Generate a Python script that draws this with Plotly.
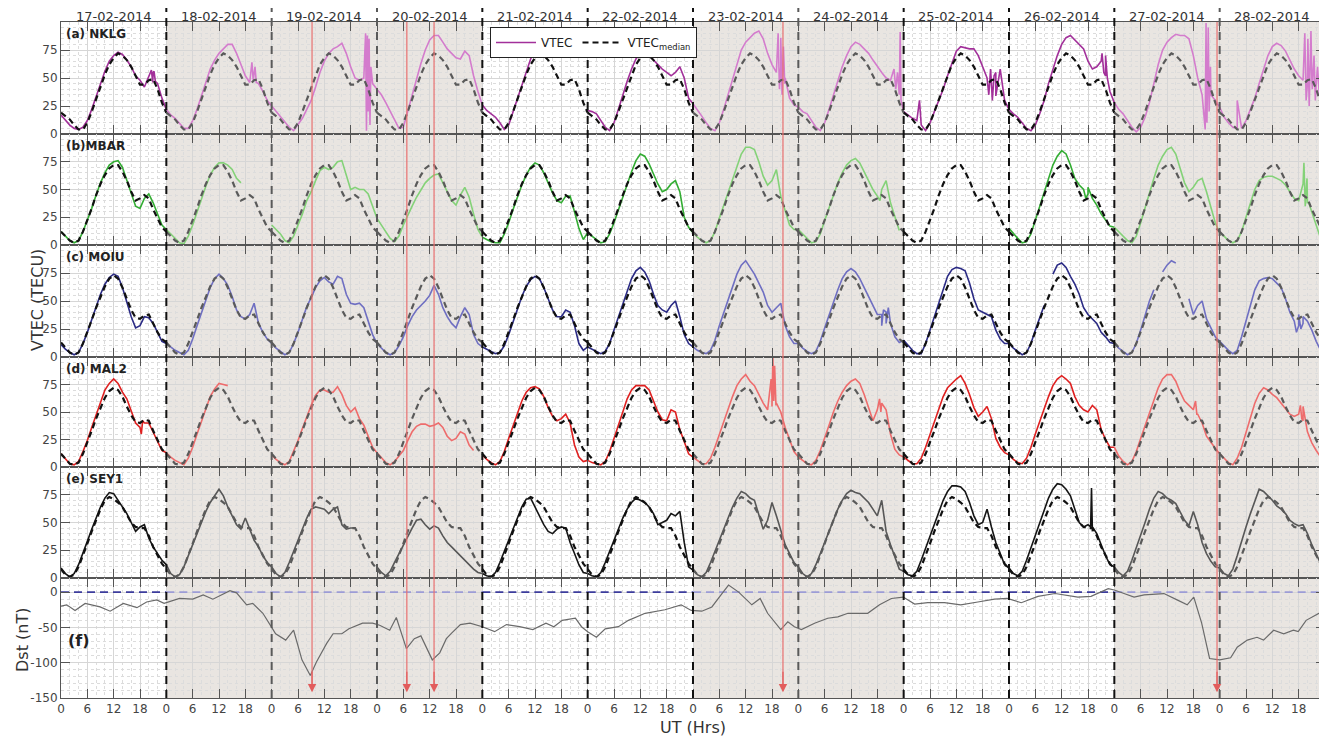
import plotly.graph_objects as go

N = None

days = ["17-02-2014", "18-02-2014", "19-02-2014", "20-02-2014", "21-02-2014", "22-02-2014",
        "23-02-2014", "24-02-2014", "25-02-2014", "26-02-2014", "27-02-2014", "28-02-2014"]
gray_days = [1, 2, 3, 6, 7, 10, 11]
storm_hours = [57.2, 78.8, 85.0, 164.5, 263.4]

# ---------------- NKLG ----------------
nklg_median = [19, 16, 13, 8, 4, 4, 10, 20, 31, 42, 53, 62, 68, 72, 70, 66, 60, 52, 44, 44, 48, 49, 40, 28]
nklg_vtec = [
    [17, 12, 8, 5, 4, 6, 12, 22, 33, 45, 56, 65, 70, 73, 71, 66, 60, 52, 48, 42, 52, 55, 45, 32],
    [22, 17, 14, 9, 5, 5, 12, 22, 34, 46, 58, 66, 72, 76, 80, 80, 72, 62, 52, 46, 55, 45, 38, 30],
    [25, 20, 15, 10, 6, 3, 8, 14, 22, 30, 42, 55, 65, 72, 76, 78, 81, 72, 60, 50, 48, 50, 55, 45],
    [40, 35, 28, 20, 12, 5, 6, 20, 36, 50, 63, 75, 84, 88, 88, 82, 76, 72, 68, 67, 74, 70, 52, 38],
    [26, 21, 18, 15, 10, 4, 8, 20, 32, 45, 57, 67, 74, 76, 75, 72, 70, N, N, N, N, N, N, N],
    [21, 20, 18, 12, 6, 3, 10, 22, 35, 47, 58, 67, 72, 76, 70, 66, 62, 58, 55, 52, 55, 60, 50, 32],
    [27, 22, 16, 10, 5, 3, 10, 22, 35, 48, 62, 75, 82, 86, 90, 92, 85, 72, 62, 55, 60, 50, 32, 26],
    [24, 20, 18, 12, 6, 3, 10, 22, 35, 48, 60, 70, 78, 82, 80, 76, 72, 66, 60, 55, 50, 48, 45, 35],
    [20, 17, 14, 12, 8, 3, 10, 20, 30, 40, 52, 64, 74, 78, 77, 76, 76, 70, 60, 50, 45, 55, 58, 30],
    [22, 18, 15, 10, 5, 3, 8, 18, 30, 45, 58, 70, 80, 86, 88, 84, 80, 76, 65, 58, 60, 65, 52, 38],
    [28, 22, 18, 12, 6, 2, 6, 15, 28, 45, 62, 75, 82, 86, 89, 88, 88, 85, 70, 50, 35, 20, 35, 30],
    [24, 15, 10, 6, 5, 5, 12, 22, 32, 45, 58, 70, 78, 81, 79, 74, 66, 58, 52, 48, 45, 50, 45, 40],
]
nklg_spike_t = [20.6, 20.9, 21.2, 21.5, 43.5, 43.8, 44.2, 44.5,
                69.4, 69.6, 69.8, 70.0, 70.2, 70.4, 70.6,
                163.4, 163.7, 164.0, 164.3, 164.6, 164.9,
                189.8, 190.2, 190.6, 190.9, 191.2, 191.4,
                195.6, 211.4, 211.8, 212.2, 212.6, 213.0,
                237.2, 237.6, 238.0, 238.4,
                260.7, 260.9, 261.1, 261.4, 261.6, 261.9,
                268.0, 283.4, 283.7, 284.1, 284.4, 284.8, 285.1, 285.5, 285.8, 286.3, 286.7, 287.2]
nklg_spike_v = [57, 46, 56, 47, 64, 48, 60, 46,
                90, 3, 88, 20, 85, 8, 60,
                90, 40, 86, 35, 78, 45,
                58, 40, 55, 38, 91, 30,
                30, 35, 58, 30, 52, 34,
                72, 55, 70, 50,
                4, 99, 10, 95, 20, 60,
                30, 90, 30, 85, 25, 92, 40, 70, 30, 60, 35, 55]

# ---------------- MBAR ----------------
mbar_median = [12, 8, 4, 2, 4, 12, 22, 33, 45, 55, 63, 69, 72, 72, 66, 58, 48, 40, 42, 45, 42, 32, 24, 16]
mbar_vtec = [
    [12, 8, 4, 2, 4, 12, 22, 33, 45, 56, 65, 72, 75, 76, 70, 58, 45, 35, 33, 42, 46, 38, 28, 18],
    [14, 10, 6, 2, 1, 8, 18, 30, 42, 53, 63, 70, 74, 74, 72, 68, 60, 56, N, N, N, N, N, N],
    [18, 14, 10, 4, 2, 8, 18, 28, 40, 48, 58, 67, 70, 68, 70, 75, 76, 62, 50, 52, 50, 50, 46, 35],
    [24, 18, 12, 6, 3, 8, 18, 27, 35, 43, 50, 56, 60, 63, 64, 56, 48, 40, 36, 45, 52, 43, 28, 14],
    [7, 5, 3, 2, 2, 10, 20, 32, 44, 54, 63, 70, 74, 72, 65, 56, 47, 40, 38, 44, 44, 30, 15, 5],
    [11, 8, 5, 2, 3, 10, 20, 32, 42, 54, 66, 76, 82, 80, 73, 64, 55, 48, 50, 55, 58, 48, 25, 16],
    [11, 7, 4, 2, 4, 12, 24, 36, 48, 60, 72, 82, 88, 88, 86, 75, 62, 54, 58, 68, 44, 32, 18, 14],
    [14, 10, 6, 2, 3, 10, 22, 34, 46, 56, 65, 72, 76, 78, 74, 66, 58, 50, 44, 50, 58, 38, 25, 13],
    [N] * 24,
    [15, 10, 6, 2, 3, 10, 22, 35, 48, 60, 72, 80, 85, 82, 72, 60, 54, 50, 46, 42, 36, 28, 22, 17],
    [16, 12, 8, 4, 2, 8, 20, 34, 48, 60, 72, 80, 86, 88, 82, 70, 56, 48, 52, 58, 60, 48, 34, 20],
    [11, 8, 4, 2, 4, 12, 25, 38, 50, 58, 61, 62, 62, 60, 58, 54, 48, 42, 40, 55, 38, 30, 18, 6],
]
mbar_spike_t = [186.6, 187.0, 233.5, 234.0, 283.2, 283.5, 283.9, 284.3]
mbar_spike_v = [40, 50, 42, 52, 74, 35, 60, 38]

# ---------------- MOIU ----------------
moiu_median = [13, 8, 4, 2, 4, 12, 22, 33, 44, 54, 63, 70, 73, 70, 62, 52, 42, 35, 34, 37, 38, 30, 22, 16]
moiu_vtec = [
    [11, 7, 4, 2, 4, 12, 22, 34, 46, 56, 65, 71, 74, 72, 62, 48, 36, 26, 28, 36, 35, 30, 22, 14],
    [12, 9, 6, 4, 2, 6, 16, 28, 40, 52, 62, 70, 74, 70, 64, 54, 42, 36, 34, 38, 48, 30, 22, 16],
    [12, 8, 5, 2, 4, 12, 22, 34, 45, 53, 62, 68, 71, 67, 65, 72, 70, 56, 48, 47, 48, 44, 32, 20],
    [12, 8, 4, 2, 4, 10, 18, 28, 36, 42, 46, 50, 55, 64, 56, 44, 36, 30, 26, 36, 44, 38, 20, 12],
    [9, 7, 5, 3, 4, 10, 20, 32, 44, 54, 63, 69, 72, 70, 62, 52, 42, 36, 36, 42, 40, 28, 12, 6],
    [9, 7, 5, 3, 5, 12, 24, 36, 48, 60, 70, 77, 80, 76, 68, 56, 46, 42, 40, 46, 50, 36, 20, 12],
    [9, 6, 4, 3, 6, 15, 28, 40, 52, 64, 74, 82, 86, 80, 74, 66, 58, 46, 40, 44, 48, 28, 18, 12],
    [12, 8, 5, 3, 5, 14, 26, 38, 50, 60, 70, 76, 79, 76, 70, 62, 55, 46, 38, 38, 40, 30, 18, 13],
    [15, 10, 6, 3, 3, 12, 24, 36, 50, 62, 72, 78, 80, 79, 77, 66, 52, 42, 40, 38, 36, 24, 16, 12],
    [12, 8, 5, 2, 4, 12, 24, 36, 46, N, 74, 82, 84, 80, 72, 65, 56, 44, 38, 34, 30, 22, 18, 13],
    [12, 8, 5, 2, 4, 12, 24, 38, 50, 60, N, 76, 82, 86, 84, N, N, 52, 38, 46, 50, 34, 26, 18],
    [14, 10, 6, 3, 6, 18, 32, 46, 60, 68, 70, 71, 70, 66, 62, 52, 40, 32, 28, 30, 32, 24, 14, 6],
]
moiu_spike_t = [187.0, 187.4, 188.0, 188.5, 281.5, 282.0, 282.5, 283.0]
moiu_spike_v = [28, 42, 30, 44, 22, 38, 25, 36]

# ---------------- MAL2 ----------------
mal2_median = [12, 7, 3, 2, 4, 12, 22, 33, 44, 54, 63, 69, 72, 70, 64, 55, 47, 41, 40, 43, 42, 33, 24, 16]
mal2_vtec = [
    [12, 7, 3, 2, 5, 14, 24, 36, 48, 60, 70, 76, 80, 76, 68, 62, 50, 40, 36, 40, 40, 32, 24, 15],
    [13, 9, 6, 4, 2, 8, 18, 30, 42, 54, 64, 71, 76, 75, 74, N, N, N, N, N, N, N, N, N],
    [11, 7, 4, 2, 5, 14, 24, 35, 46, 56, 65, 70, 70, 68, 68, 73, 66, 56, 50, 54, 44, 38, 28, 18],
    [13, 8, 4, 2, 5, 10, 15, 24, 32, 37, 39, 39, 37, 38, 40, 36, 28, 24, 26, 32, 30, 20, 15, N],
    [11, 7, 4, 2, 5, 14, 26, 38, 50, 60, 68, 72, 73, 71, 64, 54, 46, 42, 44, 48, 40, 20, 9, 5],
    [6, 4, 3, 2, 5, 14, 26, 38, 50, 62, 70, 74, 74, 74, 70, 60, 50, 43, 42, 52, 50, 34, 22, 12],
    [9, 6, 3, 3, 8, 18, 30, 42, 54, 64, 74, 80, 84, 78, 74, 66, 58, 52, 62, 58, 50, 36, 25, 14],
    [9, 6, 3, 2, 6, 15, 26, 38, 50, 60, 68, 74, 78, 80, 76, 66, 54, 42, 52, 58, 52, 30, 16, 11],
    [9, 6, 3, 3, 8, 18, 30, 42, 54, 64, 72, 76, 80, 83, 76, 66, 54, 46, 50, 55, 44, 26, 18, 13],
    [11, 7, 4, 3, 8, 18, 30, 42, 54, 64, 74, 80, 83, 80, 76, 64, 56, 52, 50, 56, 52, 34, 25, 18],
    [18, 10, 5, 2, 5, 14, 26, 38, 50, 62, 72, 80, 84, 84, 78, 68, 60, 56, 52, 48, 40, 28, 22, 17],
    [12, 8, 4, 2, 8, 18, 32, 46, 58, 67, 72, 70, 66, 63, 58, 52, 48, 46, 48, 42, 32, 22, 15, 9],
]
mal2_spike_t = [18.3, 18.6, 161.8, 162.0, 162.2, 162.4, 162.6, 162.9,
                186.5, 186.8, 258.5, 258.8, 282.4, 282.7, 283.0]
mal2_spike_v = [30, 42, 80, 55, 99, 60, 92, 56, 62, 50, 60, 48, 56, 44, 55]

# ---------------- SEY1 ----------------
sey1_median = [8, 3, 1, 3, 10, 20, 31, 42, 52, 62, 70, 73, 71, 68, 64, 57, 50, 46, 45, 45, 38, 28, 20, 13]
sey1_vtec = [
    [9, 4, 1, 4, 12, 22, 33, 44, 54, 64, 72, 77, 76, 70, 64, 58, 50, 42, 46, 48, 36, 28, 22, 16],
    [12, 4, 1, 3, 10, 20, 30, 40, 50, 60, 68, 74, 80, 74, 64, 56, 48, 44, 54, 44, 34, 28, 20, 14],
    [10, 4, 1, 5, 14, 24, 34, 44, 54, 62, 64, 63, 62, 58, 62, 64, 48, 44, 45, 45, N, N, N, N],
    [10, 5, 2, 6, 14, 22, 30, 38, 45, 52, 53, 48, 44, 47, 45, 38, 32, 28, 24, 20, 16, 12, 8, 5],
    [4, 2, 1, 5, 14, 24, 34, 45, 55, 64, 71, 72, 64, 56, 48, 42, 40, 44, 46, 45, 32, 22, 12, 5],
    [4, 2, 1, 5, 14, 24, 34, 44, 54, 62, 68, 72, 70, 68, 64, 58, 48, 50, 52, 58, 56, 60, 32, 10],
    [7, 3, 1, 5, 14, 24, 34, 44, 54, 64, 72, 78, 76, 72, 70, 58, 44, 52, 68, 56, 42, 30, 22, 14],
    [10, 4, 1, 4, 12, 22, 32, 42, 52, 62, 70, 76, 79, 77, 76, 72, 68, 62, 56, 70, 42, 30, 18, 8],
    [6, 3, 2, 6, 16, 27, 38, 49, 60, 70, 78, 83, 83, 82, 78, 68, 56, 48, 50, 62, 46, 32, 22, 12],
    [9, 4, 2, 6, 16, 27, 38, 50, 62, 72, 80, 85, 84, 80, 74, 62, 50, 46, 48, 42, 40, 30, 20, 12],
    [10, 5, 2, 6, 16, 27, 38, 50, 62, 72, 78, 76, 72, 70, 67, 60, 52, 47, 60, 48, 32, 22, 15, 10],
    [9, 4, 2, 8, 20, 34, 46, 58, 70, 80, 78, 74, 70, 65, 62, 58, 52, 49, 47, 48, 40, 30, 22, 13],
]
sey1_spike_t = [234.6, 234.8, 235.0]
sey1_spike_v = [46, 81, 46]

# ---------------- Dst ----------------
dst_t = [0, 1.3, 3.2, 5.5, 8.9, 11.2, 14.2, 17.3, 19.5, 21.8, 23.5,
         24, 27, 30, 32.4, 34.6, 38.5, 40, 42.3, 43.7, 46, 48,
         48.9, 51.2, 53, 54.9, 56.8, 58.2, 60.5, 62, 64, 65.6, 68.7, 71,
         72.6, 74.9, 76.4, 78.7, 80.5, 82, 84.6, 86.3, 87.8, 89, 91, 93.2, 96,
         98.8, 101.5, 104.5, 107.5, 110.5, 112.3, 114.2, 117.2, 118.6, 120,
         122, 124, 127, 129.3, 133.1, 137.6, 141.3, 143.6,
         146, 148.3, 150.6, 152.1, 154.4, 157.4, 159.3, 161, 164, 165.6, 167.1,
         168.7, 171.7, 174.7, 177, 179.3, 183.8, 186.5, 189.2, 191.9,
         194.5, 197.5, 201.3, 205, 208.9, 212.7, 215.6,
         218.8, 222.6, 226.5, 231.7, 234.7, 238.6, 240,
         242.2, 244.5, 246.8, 251.3, 254.3, 256.6, 258.1, 259.9, 261.7, 264,
         266.5, 268, 270.3, 272.5, 274, 276.3, 278.6, 280.8, 281.9, 283.7, 286.6, 288]
dst_v = [-20, -18, -26, -16, -21, -27, -16, -22, -14, -11, -16,
         -15, -9, -10, -4, -10, 2, -1, -18, -16, -30, -50,
         -59, -68, -54, -96, -118, -99, -73, -59, -59, -52, -44, -44,
         -47, -54, -36, -80, -66, -62, -96, -86, -66, -58, -46, -44, -49,
         -56, -46, -49, -53, -44, -49, -40, -37, -49, -56,
         -64, -52, -49, -40, -30, -25, -18, -26,
         -27, -21, -2, 10, 0, -18, -9, -30, -53, -42, -49,
         -53, -44, -37, -35, -30, -30, -18, -9, -7,
         -17, -15, -15, -18, -14, -10, -9,
         -15, -6, -2, -7, -6, 5, 3,
         -2, -7, -4, -2, -11, -18, -7, -44, -94, -96,
         -93, -78, -68, -64, -68, -54, -59, -54, -56, -40, -30, -28]

# ---------------- figure ----------------
FONT = "DejaVu Sans"
PAGE_OFF = 8                      # default body margin of the html page
W, H = 1327 - PAGE_OFF, 740 - PAGE_OFF
ML, MR, MT, MB = 61 - PAGE_OFF, 2, 22 - PAGE_OFF, 42
PH = H - MT - MB
PW = W - ML - MR

# panel pixel boundaries in screenshot coords (top, bottom)
panel_px = [(22, 134), (134, 245), (245, 357), (357, 467), (467, 578), (578, 698)]


def py(p):  # screenshot y pixel -> paper
    return (H - MB - (p - PAGE_OFF)) / PH


def px(p):  # screenshot x pixel -> paper
    return (p - PAGE_OFF - ML) / PW


domains = [[py(b), py(t)] for (t, b) in panel_px]

stations = [
    ("(a) NKLG", nklg_vtec, nklg_median, nklg_spike_t, nklg_spike_v, "#a2309a", "#d47ccd"),
    ("(b)MBAR", mbar_vtec, mbar_median, mbar_spike_t, mbar_spike_v, "#33ad33", "#84d278"),
    ("(c) MOIU", moiu_vtec, moiu_median, moiu_spike_t, moiu_spike_v, "#2b2b85", "#6f6fc2"),
    ("(d) MAL2", mal2_vtec, mal2_median, mal2_spike_t, mal2_spike_v, "#df2020", "#ee6c6c"),
    ("(e) SEY1", sey1_vtec, sey1_median, sey1_spike_t, sey1_spike_v, "#141414", "#575757"),
]

fig = go.Figure()

for si, (label, vt, med, spt, spv, cw, cg) in enumerate(stations):
    ax = "x" if si == 0 else f"x{si + 1}"
    ay = "y" if si == 0 else f"y{si + 1}"
    for d in range(12):
        gray = d in gray_days
        pts = [(24 * d + h, vt[d][h]) for h in range(24)]
        if d < 11:
            pts.append((24 * d + 24, vt[d + 1][0]))
        pts += [(t, v) for t, v in zip(spt, spv) if 24 * d <= t < 24 * d + 24]
        pts.sort(key=lambda p: p[0])
        fig.add_trace(go.Scatter(
            x=[p[0] for p in pts], y=[p[1] for p in pts], mode="lines",
            line=dict(color=cg if gray else cw, width=1.6),
            xaxis=ax, yaxis=ay, connectgaps=False, hoverinfo="skip",
            name="VTEC", legendgroup="vtec", legendrank=1,
            showlegend=(si == 0 and d == 4)))
    for d in range(12):
        gray = d in gray_days
        fig.add_trace(go.Scatter(
            x=[24 * d + h for h in range(25)], y=med + [med[0]], mode="lines",
            line=dict(color="#5a5a5a" if gray else "#111111", width=2.2, dash="6px,4px"),
            xaxis=ax, yaxis=ay, hoverinfo="skip",
            name="VTEC<sub>median</sub>", legendgroup="med", legendrank=2,
            showlegend=(si == 0 and d == 4)))

# Dst zero reference (dashed blue) and Dst curve
for d in range(12):
    gray = d in gray_days
    fig.add_trace(go.Scatter(
        x=[24 * d, 24 * d + 24], y=[0, 0], mode="lines",
        line=dict(color="#9c9cd6" if gray else "#3c3c9c", width=1.6, dash="8px,5px"),
        xaxis="x6", yaxis="y6", showlegend=False, hoverinfo="skip"))
fig.add_trace(go.Scatter(x=dst_t, y=dst_v, mode="lines",
                         line=dict(color="#6a6a6a", width=1.2),
                         xaxis="x6", yaxis="y6", showlegend=False, hoverinfo="skip"))

layout = dict(width=W, height=H, autosize=False, margin=dict(l=ML, r=MR, t=MT, b=MB),
              paper_bgcolor="white", plot_bgcolor="white",
              font=dict(family=FONT, size=12, color="#444"))

x_alias = {}
for k in range(0, 289, 6):
    x_alias[str(k)] = str(k % 24) if k < 288 else ""

for i in range(6):
    xa = "xaxis" if i == 0 else f"xaxis{i + 1}"
    ya = "yaxis" if i == 0 else f"yaxis{i + 1}"
    yid = "y" if i == 0 else f"y{i + 1}"
    xd = dict(domain=[0, 1], anchor=yid, range=[0, 288], tickmode="linear", tick0=0, dtick=6,
              ticks="inside", ticklen=9, tickcolor="#555", tickwidth=1,
              showline=True, linecolor="#555", linewidth=1, mirror="ticks",
              showgrid=True, gridcolor="#d6d6d6", gridwidth=1, zeroline=False,
              minor=dict(dtick=2, showgrid=True, gridcolor="#dcdcdc", griddash="dot", gridwidth=1),
              showticklabels=(i == 5), labelalias=x_alias,
              tickfont=dict(size=12, color="#444", family=FONT))
    if i > 0:
        xd["matches"] = "x"
    layout[xa] = xd
    if i < 5:
        yd = dict(domain=domains[i], anchor="x" if i == 0 else f"x{i + 1}", range=[0, 100],
                  tickmode="linear", tick0=0, dtick=25, labelalias={"100": ""})
        ymin = 5
    else:
        yd = dict(domain=domains[i], anchor="x6", range=[-150, 20],
                  tickmode="linear", tick0=0, dtick=50,
                  labelalias={"−50": "-50", "−100": "-100", "−150": "-150"})
        ymin = 10
    yd.update(ticks="inside", ticklen=9, tickcolor="#555", showline=True, linecolor="#555",
              linewidth=1, mirror="ticks", showgrid=True, gridcolor="#d6d6d6", zeroline=False,
              minor=dict(dtick=ymin, showgrid=True, gridcolor="#dcdcdc", griddash="dot", gridwidth=1),
              tickfont=dict(size=12, color="#444", family=FONT))
    layout[ya] = yd

layout["legend"] = dict(x=px(490), y=py(27), xanchor="left", yanchor="top",
                        orientation="h", bgcolor="white", bordercolor="#222", borderwidth=1,
                        font=dict(size=12, family=FONT, color="#222"), itemwidth=40,
                        traceorder="normal")

shapes = []
for d in gray_days:
    shapes.append(dict(type="rect", xref="x", yref="paper", x0=24 * d, x1=24 * d + 24,
                       y0=0, y1=1, fillcolor="#e9e5e1", line=dict(width=0), layer="below"))
for d in range(1, 12):
    inner = (d in gray_days) and ((d - 1) in gray_days)
    shapes.append(dict(type="line", xref="x", yref="paper", x0=24 * d, x1=24 * d,
                       y0=0, y1=py(6), line=dict(color="#5a5a5a" if inner else "#111",
                                                   width=2, dash="8px,6px"), layer="above"))
arrow_tip = -142
for h in storm_hours:
    shapes.append(dict(type="line", xref="x", yref="paper", x0=h, x1=h,
                       y0=py(686), y1=1.0, line=dict(color="#e87070", width=1.2), layer="above"))
layout["shapes"] = shapes

ann = []
for d, name in enumerate(days):
    ann.append(dict(text=name, x=24 * d + 12, xref="x", y=py(16), yref="paper",
                    showarrow=False, xanchor="center", yanchor="middle",
                    font=dict(size=13, family=FONT, color="#333")))
for si, st in enumerate(stations):
    top = panel_px[si][0]
    ann.append(dict(text="<b>" + st[0] + "</b>", x=0.002, xref="paper", y=py(top + 3), yref="paper",
                    showarrow=False, xanchor="left", yanchor="top",
                    font=dict(size=12, family=FONT, color="#222")))
ann.append(dict(text="<b>(f)</b>", x=0.004, xref="paper", y=py(640), yref="paper",
                showarrow=False, xanchor="left", yanchor="middle",
                font=dict(size=16, family=FONT, color="#222")))
for h in storm_hours:
    ann.append(dict(text="", x=h, xref="x6", y=arrow_tip, yref="y6", showarrow=True,
                    ax=0, ay=-22, arrowhead=2, arrowsize=1.4, arrowwidth=1.2,
                    arrowcolor="#e25c5c"))
ann.append(dict(text="VTEC (TECU)", x=px(37), xref="paper", y=py(300), yref="paper",
                showarrow=False, textangle=-90, xanchor="center", yanchor="middle",
                font=dict(size=16, family=FONT, color="#333")))
ann.append(dict(text="Dst (nT)", x=px(22), xref="paper", y=py(640), yref="paper",
                showarrow=False, textangle=-90, xanchor="center", yanchor="middle",
                font=dict(size=16, family=FONT, color="#333")))
ann.append(dict(text="UT (Hrs)", x=0.5, xref="paper", y=py(728), yref="paper",
                showarrow=False, xanchor="center", yanchor="middle",
                font=dict(size=16, family=FONT, color="#333")))
layout["annotations"] = ann

fig.update_layout(**layout)
fig.write_html("out.html")
